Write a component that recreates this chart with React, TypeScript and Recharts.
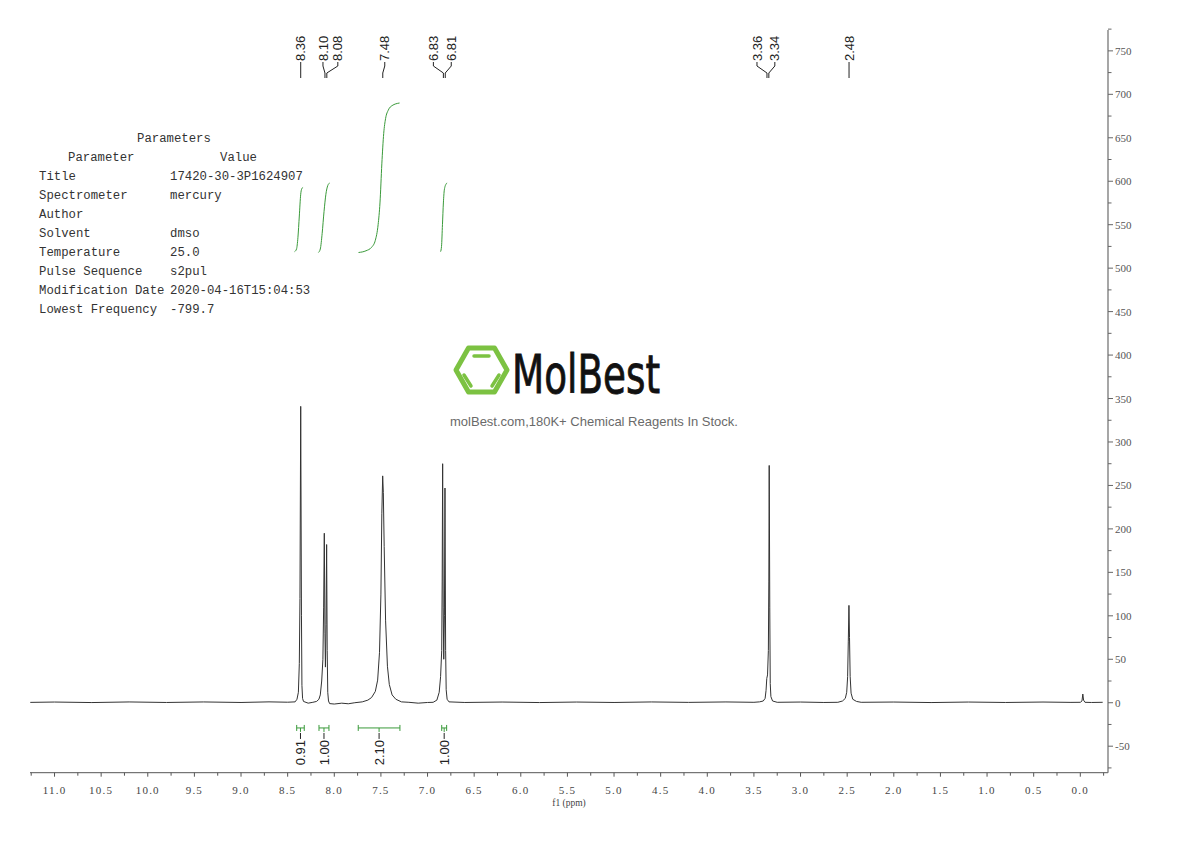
import React from "react";
import { Line, LineChart, ReferenceLine, XAxis, YAxis } from "recharts";

type Pt = [number, number];

// 1H spectrum (ppm, intensity)
const baselineLow: Pt[] = [
  [11.26, 0.4], [11.0, 0.8], [10.6, 0.2], [10.2, 0.9], [9.8, 0.3], [9.4, 0.9], [9.0, 0.3], [8.7, 1.0], [8.5, 0.6],
];
const peak836: Pt[] = [
  [8.42, 1], [8.4, 4], [8.385, 12], [8.375, 45], [8.368, 120], [8.36, 341], [8.352, 100], [8.347, 20], [8.34, 5], [8.33, 1.5],
];
const gap1: Pt[] = [[8.28, -0.5], [8.23, 0.5]];
const peak809: Pt[] = [
  [8.19, 1.5], [8.165, 4], [8.15, 9], [8.135, 25], [8.122, 50], [8.114, 110], [8.107, 195], [8.1, 80], [8.095, 41],
  [8.088, 90], [8.082, 182], [8.076, 60], [8.07, 12], [8.062, 2], [8.05, -1],
];
const gap2: Pt[] = [[8.0, -1.5], [7.92, -0.5], [7.85, -1.2], [7.78, 0]];
const peak748: Pt[] = [
  [7.7, 1], [7.64, 3], [7.6, 6], [7.56, 13], [7.535, 26], [7.515, 58], [7.5, 125], [7.49, 218], [7.481, 261],
  [7.474, 242], [7.465, 180], [7.45, 95], [7.43, 42], [7.41, 21], [7.38, 9], [7.34, 4], [7.28, 1],
];
const gap3: Pt[] = [[7.2, 0.5], [7.1, -0.5], [7.0, 0.3]];
const peak682: Pt[] = [
  [6.94, 0.5], [6.9, 3], [6.875, 12], [6.86, 30], [6.848, 60], [6.843, 140], [6.838, 275], [6.832, 110], [6.826, 50],
  [6.819, 100], [6.813, 247], [6.806, 60], [6.8, 15], [6.79, 4], [6.77, 1],
];
const baselineMid: Pt[] = [
  [6.6, 0.3], [6.2, 0.8], [5.8, 0.2], [5.4, 0.8], [5.0, 0.3], [4.6, 0.9], [4.2, 0.4], [3.8, 0.9], [3.5, 0.5],
];
const peak335: Pt[] = [
  [3.44, 1], [3.4, 2], [3.38, 5], [3.37, 14], [3.362, 28], [3.354, 32], [3.345, 60], [3.34, 140], [3.336, 273],
  [3.33, 110], [3.325, 22], [3.318, 7], [3.3, 2], [3.25, 0.5],
];
const gap4: Pt[] = [[3.0, 0.8], [2.75, 0.3]];
const peak248: Pt[] = [
  [2.6, 0.5], [2.55, 2], [2.52, 5], [2.505, 12], [2.495, 30], [2.488, 70], [2.481, 112], [2.475, 75], [2.468, 30],
  [2.458, 11], [2.44, 4], [2.4, 1.5], [2.35, 0.5],
];
const baselineHigh: Pt[] = [[2.0, 0.8], [1.6, 0.2], [1.2, 0.8], [0.8, 0.3], [0.4, 0.8], [0.1, 0.4]];
const peakTms: Pt[] = [[0.0, 0.5], [-0.018, 2], [-0.027, 10], [-0.035, 3], [-0.05, 0.5], [-0.12, 0.3], [-0.24, 0.5]];

// integral curves
const integral836: Pt[] = [[8.425, 519], [8.405, 522], [8.39, 535], [8.375, 560], [8.36, 585], [8.35, 591], [8.335, 593]];
const integral809: Pt[] = [[8.17, 518], [8.15, 522], [8.13, 540], [8.11, 565], [8.09, 585], [8.07, 595], [8.05, 598]];
const integral748: Pt[] = [
  [7.74, 518], [7.66, 520], [7.6, 524], [7.56, 532], [7.53, 550], [7.51, 575], [7.49, 620], [7.47, 655], [7.45, 672],
  [7.42, 682], [7.38, 687], [7.3, 690],
];
const integral682: Pt[] = [[6.86, 519], [6.85, 525], [6.84, 550], [6.83, 575], [6.82, 590], [6.8, 597], [6.79, 598]];

// integration regions and values
const integralRanges: Pt[] = [[8.403, 8.322], [8.164, 8.057], [7.743, 7.296], [6.848, 6.795]];
const integralValues = ["0.91", "1.00", "2.10", "1.00"];
const integralBarLevel = -29;

// peak picking labels
const peakShifts = [8.36, 8.1, 8.08, 7.48, 6.83, 6.81, 3.36, 3.34, 2.48];
const peakLabelNudge = [0, -2, 11, 2, -10, 6, -10, 6, 0];

// axis ticks
const xMajorTicks = [11.0, 10.5, 10.0, 9.5, 9.0, 8.5, 8.0, 7.5, 7.0, 6.5, 6.0, 5.5, 5.0, 4.5, 4.0, 3.5, 3.0, 2.5, 2.0, 1.5, 1.0, 0.5, 0.0];
const yMajorTicks = [-50, 0, 50, 100, 150, 200, 250, 300, 350, 400, 450, 500, 550, 600, 650, 700, 750];

// parameter table
const paramNames = ["Title", "Spectrometer", "Author", "Solvent", "Temperature", "Pulse Sequence", "Modification Date", "Lowest Frequency"];
const paramValues = ["17420-30-3P1624907", "mercury", "", "dmso", "25.0", "s2pul", "2020-04-16T15:04:53", "-799.7"];

const X_DOMAIN: [number, number] = [-0.297, 11.263];
const Y_DOMAIN: [number, number] = [-80.5, 774];

const toRows = (pts: Pt[]) => pts.map(([ppm, v]) => ({ ppm, v }));

const spectrum = toRows(
  [
    ...baselineLow, ...peak836, ...gap1, ...peak809, ...gap2, ...peak748, ...gap3, ...peak682,
    ...baselineMid, ...peak335, ...gap4, ...peak248, ...baselineHigh, ...peakTms,
  ].sort((a, b) => b[0] - a[0])
);
const integrals = [integral836, integral809, integral748, integral682].map(toRows);

const xTicks = [...xMajorTicks, ...xMajorTicks.map((t) => t + 0.25), -0.25].sort((a, b) => b - a);
const yTicks = [...yMajorTicks, ...yMajorTicks.map((t) => t + 25), -75].sort((a, b) => a - b);

const GREEN = "#3a9a3a";
const INK = "#222";
const SANS = "'Liberation Sans', Arial, sans-serif";
const MONO = "'Liberation Mono', 'DejaVu Sans Mono', monospace";
const SERIF = "'Liberation Serif', 'DejaVu Serif', serif";

function XTick({ x, y, payload }: any) {
  const v = payload.value as number;
  const major = Math.abs(v * 2 - Math.round(v * 2)) < 1e-6;
  return (
    <g>
      <line x1={x} x2={x} y1={y} y2={y + (major ? 4 : 3)} stroke="#555" />
      {major && (
        <text x={x} y={y + 21} textAnchor="middle" fontSize={11} fontFamily={SERIF} fill="#444" letterSpacing={1.2}>
          {v.toFixed(1)}
        </text>
      )}
    </g>
  );
}

function YTick({ x, y, payload }: any) {
  const v = payload.value as number;
  const major = v % 50 === 0;
  return (
    <g>
      <line x1={x} x2={x + (major ? 5 : 3.5)} y1={y} y2={y} stroke="#666" />
      {major && (
        <text x={x + 7} y={y + 4} fontSize={11} fontFamily={SERIF} fill="#555">
          {v}
        </text>
      )}
    </g>
  );
}

const peakLabelShape = (text: string, nudge: number) => (p: any) => {
  const px = p.x1;
  const top = Math.min(p.y1, p.y2);
  const lx = px + nudge;
  return (
    <g>
      <polyline
        points={`${lx},${top + 32} ${lx},${top + 36} ${px},${top + 43} ${px},${top + 48}`}
        fill="none"
        stroke={INK}
        strokeWidth={1}
      />
      <text
        transform={`translate(${lx},${top + 31}) rotate(-90)`}
        dy="0.35em"
        fontSize={13}
        fontFamily={SANS}
        fill={INK}
      >
        {text}
      </text>
    </g>
  );
};

const integralBarShape = (text: string) => (p: any) => {
  const { x1, x2, y1 } = p;
  const cx = (x1 + x2) / 2;
  return (
    <g>
      <line x1={x1} x2={x2} y1={y1} y2={y1} stroke={GREEN} />
      <line x1={x1} x2={x1} y1={y1 - 3} y2={y1 + 3} stroke={GREEN} />
      <line x1={x2} x2={x2} y1={y1 - 3} y2={y1 + 3} stroke={GREEN} />
      <line x1={cx} x2={cx} y1={y1} y2={y1 + 4} stroke={GREEN} />
      <line x1={cx} x2={cx} y1={y1 + 5} y2={y1 + 11} stroke={INK} />
      <text
        transform={`translate(${cx},${y1 + 12}) rotate(-90)`}
        dy="0.35em"
        textAnchor="end"
        fontSize={13}
        fontFamily={SANS}
        fill={INK}
      >
        {text}
      </text>
    </g>
  );
};

function Overlay() {
  return (
    <svg width={1190} height={841} style={{ position: "absolute", left: 0, top: 0, pointerEvents: "none" }}>
      <g fontFamily={MONO} fontSize={12.3} fill="#333">
        <text x={137} y={142}>Parameters</text>
        <text x={68} y={161}>Parameter</text>
        <text x={220} y={161}>Value</text>
        {paramNames.map((name, i) => (
          <g key={name}>
            <text x={39} y={180 + i * 19}>{name}</text>
            <text x={170} y={180 + i * 19}>{paramValues[i]}</text>
          </g>
        ))}
      </g>
      <g fill="none" stroke="#7cc242" strokeLinecap="round" strokeLinejoin="round">
        <polygon points="456,370 468.5,348 494.5,348 507,370 494.5,392 468.5,392" strokeWidth={5} />
        <line x1={474} y1={356} x2={489} y2={356} strokeWidth={3.5} />
        <line x1={464} y1={375} x2={471} y2={386} strokeWidth={3.5} />
        <line x1={499} y1={375} x2={492} y2={386} strokeWidth={3.5} />
      </g>
      <text
        x={512}
        y={393}
        fontSize={54}
        fontFamily="'DejaVu Sans Condensed', 'DejaVu Sans', sans-serif"
        textLength={148}
        lengthAdjust="spacingAndGlyphs"
        fill="#111"
        stroke="#111"
        strokeWidth={0.8}
      >
        MolBest
      </text>
      <text x={594} y={426} textAnchor="middle" fontSize={13} fontFamily={SANS} fill="#6a6a6a">
        molBest.com,180K+ Chemical Reagents In Stock.
      </text>
    </svg>
  );
}

export default function App() {
  return (
    <div style={{ position: "absolute", left: 0, top: 0, width: 1190, height: 841, background: "#fff" }}>
      <LineChart width={1190} height={841} margin={{ top: 30, left: 30, right: 32, bottom: 38.3 }}>
        <XAxis
          type="number"
          dataKey="ppm"
          domain={X_DOMAIN}
          allowDataOverflow
          reversed
          ticks={xTicks}
          interval={0}
          tickSize={0}
          tickMargin={0}
          tick={XTick}
          height={30}
          stroke="#555"
          label={{
            value: "f1 (ppm)",
            position: "insideBottom",
            offset: -3,
            style: { fontSize: 9.5, fontFamily: SERIF, fill: "#444" },
          }}
        />
        <YAxis
          type="number"
          orientation="right"
          domain={Y_DOMAIN}
          allowDataOverflow
          ticks={yTicks}
          interval={0}
          tickSize={0}
          tickMargin={0}
          tick={YTick}
          width={50}
          stroke="#777"
          strokeWidth={1.3}
        />
        <Line
          data={spectrum}
          dataKey="v"
          type="linear"
          stroke="#333"
          strokeWidth={1}
          dot={false}
          isAnimationActive={false}
        />
        {integrals.map((d, i) => (
          <Line
            key={`int-${i}`}
            data={d}
            dataKey="v"
            type="monotone"
            stroke={GREEN}
            strokeWidth={1}
            dot={false}
            isAnimationActive={false}
          />
        ))}
        {integralRanges.map(([a, b], i) => (
          <ReferenceLine
            key={`bar-${i}`}
            segment={[{ x: a, y: integralBarLevel }, { x: b, y: integralBarLevel }]}
            ifOverflow="visible"
            shape={integralBarShape(integralValues[i])}
          />
        ))}
        {peakShifts.map((ppm, i) => (
          <ReferenceLine
            key={`pk-${i}`}
            x={ppm}
            ifOverflow="visible"
            shape={peakLabelShape(ppm.toFixed(2), peakLabelNudge[i])}
          />
        ))}
      </LineChart>
      <Overlay />
    </div>
  );
}
